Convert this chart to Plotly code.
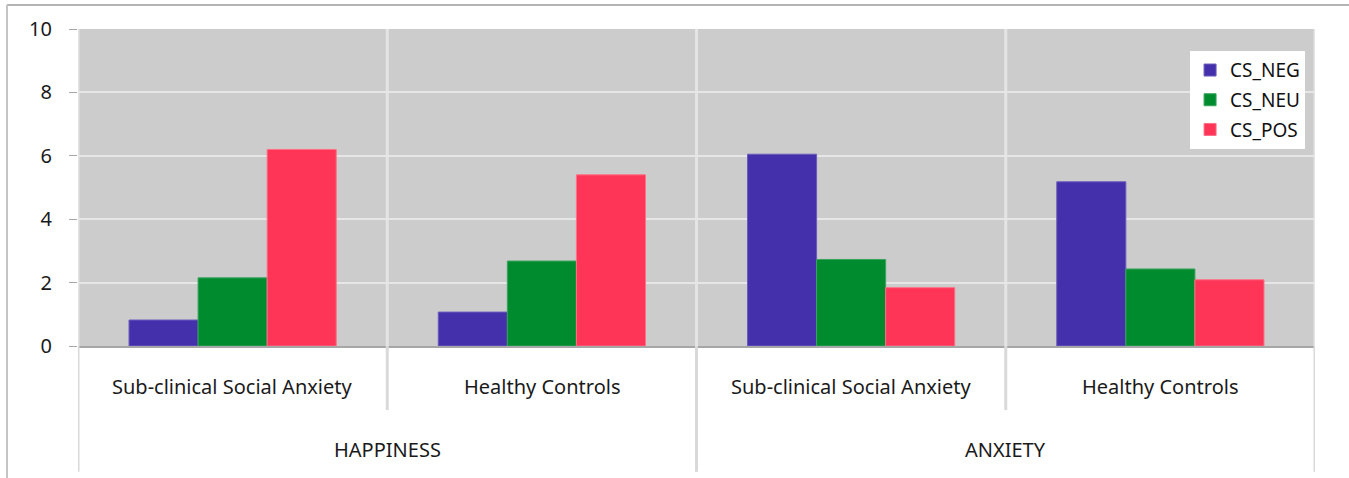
import plotly.graph_objects as go

# Emotion blocks and the groups inside each block
emotions = ["HAPPINESS", "ANXIETY"]
groups = ["Sub-clinical Social Anxiety", "Healthy Controls"]

# Mean ratings per conditioned stimulus, ordered
# HAPPINESS/SCSA, HAPPINESS/HC, ANXIETY/SCSA, ANXIETY/HC
series_names = ["CS_NEG", "CS_NEU", "CS_POS"]
cs_neg = [0.82, 1.07, 6.05, 5.18]
cs_neu = [2.15, 2.68, 2.73, 2.43]
cs_pos = [6.20, 5.40, 1.84, 2.09]
series_values = [cs_neg, cs_neu, cs_pos]
series_colors = ["#4430AA", "#008C2E", "#FF3558"]
series_lines = ["#6A5CBC", "#3AA35E", "#FF6F86"]

y_ticks = [0, 2, 4, 6, 8, 10]

FONT = "Noto Sans"
TXT = "#1a1a1a"
positions = list(range(len(emotions) * len(groups)))

fig = go.Figure()
for name, vals, col, lcol in zip(series_names, series_values, series_colors, series_lines):
    fig.add_trace(go.Bar(
        x=positions, y=vals, name=name,
        marker=dict(color=col, line=dict(color=lcol, width=1)),
        legendgroup=name,
    ))

shapes = []
n = len(positions)
# light separators inside the plotting area
for b in [i - 0.5 for i in range(n + 1)]:
    shapes.append(dict(type="line", xref="x", yref="paper", x0=b, x1=b, y0=0, y1=1,
                       line=dict(color="#e4e4e4", width=3), layer="below"))
# separators below the axis: long ones between emotion blocks, short ones between groups
for i in range(n + 1):
    b = i - 0.5
    long_line = (i % len(groups) == 0)
    shapes.append(dict(type="line", xref="x", yref="paper", x0=b, x1=b,
                       y0=-0.397 if long_line else -0.202, y1=0,
                       line=dict(color="#d9d9d9", width=3)))
# outer chart frame (left and top edges)
shapes.append(dict(type="line", xref="paper", yref="paper", x0=-0.0574, x1=1.1,
                   y0=1.0757, y1=1.0757, line=dict(color="#b4b4b4", width=2)))
shapes.append(dict(type="line", xref="paper", yref="paper", x0=-0.0574, x1=-0.0574,
                   y0=-0.6, y1=1.0757, line=dict(color="#c4c4c4", width=2)))

annotations = []
for i, p in enumerate(positions):
    annotations.append(dict(x=p, y=-0.129, xref="x", yref="paper", text=groups[i % len(groups)],
                            showarrow=False, yanchor="middle",
                            font=dict(family=FONT, size=20, color=TXT)))
for j, emo in enumerate(emotions):
    cx = j * len(groups) + (len(groups) - 1) / 2
    annotations.append(dict(x=cx, y=-0.328, xref="x", yref="paper", text=emo,
                            showarrow=False, yanchor="middle",
                            font=dict(family=FONT, size=20, color=TXT)))

fig.update_layout(
    width=1349, height=478,
    margin=dict(l=78, r=34, t=29, b=132),
    paper_bgcolor="white", plot_bgcolor="#cccccc",
    barmode="group", bargap=0.33, bargroupgap=0,
    font=dict(family=FONT, size=20, color=TXT),
    shapes=shapes, annotations=annotations,
    legend=dict(x=0.899, y=0.93, xanchor="left", yanchor="top",
                bgcolor="white", borderwidth=0, traceorder="grouped",
                tracegroupgap=2, font=dict(family=FONT, size=19, color="#111111"),
                itemwidth=30),
    xaxis=dict(range=[-0.5, n - 0.5], showticklabels=False, showgrid=False, zeroline=False,
               showline=True, linecolor="#a6a6a6", linewidth=2, ticks=""),
    yaxis=dict(range=[0, 10], tickvals=y_ticks, showgrid=True, gridcolor="#e6e6e6", gridwidth=2,
               zeroline=False, showline=False, ticks="outside", ticklen=8,
               tickcolor="#a6a6a6", tickwidth=1, ticklabelstandoff=13,
               tickfont=dict(family=FONT, size=20, color=TXT)),
)

fig.write_html("out.html")
